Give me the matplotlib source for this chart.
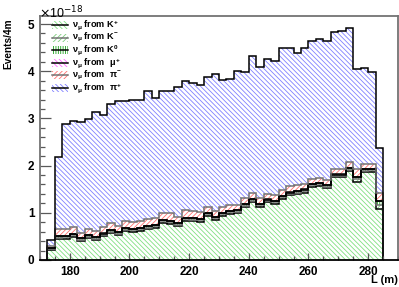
import numpy as np
import matplotlib
matplotlib.use("Agg")
import matplotlib.pyplot as plt
from matplotlib.patches import Rectangle
from matplotlib.lines import Line2D
from matplotlib.ticker import MultipleLocator

plt.rcParams['font.family'] = ['Liberation Sans', 'DejaVu Sans']
plt.rcParams['mathtext.fontset'] = 'custom'
plt.rcParams['mathtext.rm'] = 'Liberation Sans:bold'
plt.rcParams['mathtext.it'] = 'Liberation Sans:bold'
plt.rcParams['mathtext.bf'] = 'Liberation Sans:bold'
plt.rcParams['hatch.linewidth'] = 0.6

# bin edges of L (m), 2.5 m bins
bin_edges = [172.5 + 2.5 * i for i in range(46)]

# values in units of 1e-18 events / 4 m
k_plus = [0.21, 0.44, 0.45, 0.49, 0.40, 0.46, 0.42, 0.50, 0.57, 0.53,
          0.61, 0.60, 0.62, 0.65, 0.68, 0.79, 0.77, 0.72, 0.83, 0.82,
          0.81, 0.94, 0.85, 0.94, 0.98, 0.99, 1.12, 1.23, 1.13, 1.22,
          1.19, 1.30, 1.37, 1.40, 1.43, 1.55, 1.57, 1.52, 1.75, 1.75,
          1.88, 1.66, 1.86, 1.87, 1.08]
k_minus = [0.02, 0.03, 0.03, 0.03, 0.03, 0.03, 0.03, 0.03, 0.03, 0.03,
           0.03, 0.03, 0.03, 0.03, 0.03, 0.03, 0.03, 0.03, 0.03, 0.03,
           0.03, 0.03, 0.03, 0.03, 0.03, 0.03, 0.03, 0.03, 0.03, 0.03,
           0.03, 0.03, 0.03, 0.03, 0.03, 0.03, 0.03, 0.03, 0.03, 0.03,
           0.03, 0.05, 0.03, 0.03, 0.08]
k_zero = [0.02, 0.03, 0.03, 0.03, 0.03, 0.03, 0.03, 0.03, 0.03, 0.03,
          0.03, 0.03, 0.03, 0.03, 0.03, 0.03, 0.03, 0.03, 0.03, 0.03,
          0.03, 0.03, 0.03, 0.03, 0.03, 0.03, 0.03, 0.03, 0.03, 0.03,
          0.03, 0.03, 0.03, 0.03, 0.03, 0.03, 0.03, 0.03, 0.03, 0.03,
          0.03, 0.05, 0.03, 0.03, 0.08]
mu_plus = [0.005] * 45
pi_minus = [0.045, 0.155, 0.135, 0.145, 0.115, 0.135, 0.125, 0.135, 0.145, 0.135,
            0.155, 0.135, 0.145, 0.145, 0.135, 0.145, 0.155, 0.135, 0.155, 0.155,
            0.135, 0.125, 0.115, 0.125, 0.125, 0.115, 0.125, 0.125, 0.115, 0.115,
            0.125, 0.115, 0.125, 0.115, 0.115, 0.105, 0.105, 0.115, 0.115, 0.115,
            0.125, 0.165, 0.115, 0.105, 0.175]
pi_plus = [0.13, 1.53, 2.23, 2.25, 2.34, 2.32, 2.53, 2.37, 2.53, 2.63,
           2.54, 2.59, 2.56, 2.73, 2.56, 2.59, 2.60, 2.74, 2.75, 2.71,
           2.69, 2.74, 2.91, 2.68, 2.67, 2.84, 2.67, 2.91, 2.78, 2.85,
           2.83, 3.01, 2.94, 2.80, 2.89, 2.91, 2.94, 2.93, 2.91, 2.93,
           2.84, 2.11, 2.02, 1.95, 0.96]

labels = [r'$\nu_\mu$ from K$^{+}$', r'$\nu_\mu$ from K$^{-}$', r'$\nu_\mu$ from K$^{0}$',
          r'$\nu_\mu$ from  $\mu^{+}$', r'$\nu_\mu$ from  $\pi^{-}$', r'$\nu_\mu$ from  $\pi^{+}$']
components = [k_plus, k_minus, k_zero, mu_plus, pi_minus, pi_plus]
hatch_colors = ['#80e080', '#7ccc7c', '#1aa01a', '#ff66ff', '#ff7070', '#8080ff']
hatches = ['\\' * 7, '/' * 7, '|' * 7, '\\' * 7, '/' * 7, '\\' * 7]
line_colors = ['black', '0.45', 'black', 'black', '0.45', 'black']

fig = plt.figure(figsize=(3.99, 2.87), dpi=100)
ax = fig.add_axes([40 / 399, 27 / 287, 358 / 399, 244 / 287])

edges = np.array(bin_edges)
bottom = np.zeros(len(k_plus))
tops = []
for vals, hc, h in zip(components, hatch_colors, hatches):
    v = np.array(vals)
    ax.stairs(bottom + v, edges, baseline=bottom.copy(), fill=True, facecolor='none',
              edgecolor=hc, hatch=h, linewidth=0)
    bottom = bottom + v
    tops.append(bottom.copy())
for top, lc in zip(tops, line_colors):
    ax.stairs(top, edges, baseline=0, fill=False, color=lc, linewidth=1.1)

ax.set_xlim(170, 290)
ax.set_ylim(0, 5.17)
ax.xaxis.set_major_locator(MultipleLocator(20))
ax.xaxis.set_minor_locator(MultipleLocator(5))
ax.yaxis.set_major_locator(MultipleLocator(1))
ax.yaxis.set_minor_locator(MultipleLocator(0.2))
ax.tick_params(axis='x', which='major', direction='in', length=5.3, width=0.9, color='0.35',
               labelsize=8.5, pad=4)
ax.tick_params(axis='x', which='minor', direction='in', length=2.6, width=0.9, color='0.35')
ax.tick_params(axis='y', which='major', direction='in', length=7.7, width=0.9, color='0.35',
               labelsize=8.5, pad=4)
ax.tick_params(axis='y', which='minor', direction='in', length=3.9, width=0.9, color='0.35')
for lab in ax.get_xticklabels() + ax.get_yticklabels():
    lab.set_fontweight('bold')
for s in ax.spines.values():
    s.set_color('0.45')
    s.set_linewidth(1.3)
ax.spines['bottom'].set_color('black')

fig.text(8 / 399, 1 - 18 / 287, 'Events/4m', rotation=90, ha='center', va='top',
         fontsize=7.3, fontweight='bold')
fig.text(398 / 399, 2 / 287, 'L (m)', ha='right', va='bottom',
         fontsize=8, fontweight='bold')
fig.text(39 / 399, 1 - 13 / 287, r'$\times$10$^{-18}$', ha='left', va='center',
         fontsize=9, math_fontfamily='dejavusans')

# legend drawn by hand (ROOT style: hatched box with line, no frame)
W, H = 399.0, 287.0
for i, (lab, hc, h, lc) in enumerate(zip(labels, hatch_colors, hatches, line_colors)):
    yc = 25 + 12.6 * i
    rect = Rectangle((52 / W, 1 - (yc + 4) / H), 16 / W, 8 / H, transform=fig.transFigure,
                     facecolor='none', edgecolor=hc, hatch=h, linewidth=0)
    fig.add_artist(rect)
    fig.add_artist(Line2D([52 / W, 68 / W], [1 - yc / H, 1 - yc / H],
                          transform=fig.transFigure, color=lc, linewidth=1.1))
    fig.text(72 / W, 1 - yc / H, lab, ha='left', va='center', fontsize=6.6,
             fontweight='bold')

fig.savefig('out.png', dpi=100)
